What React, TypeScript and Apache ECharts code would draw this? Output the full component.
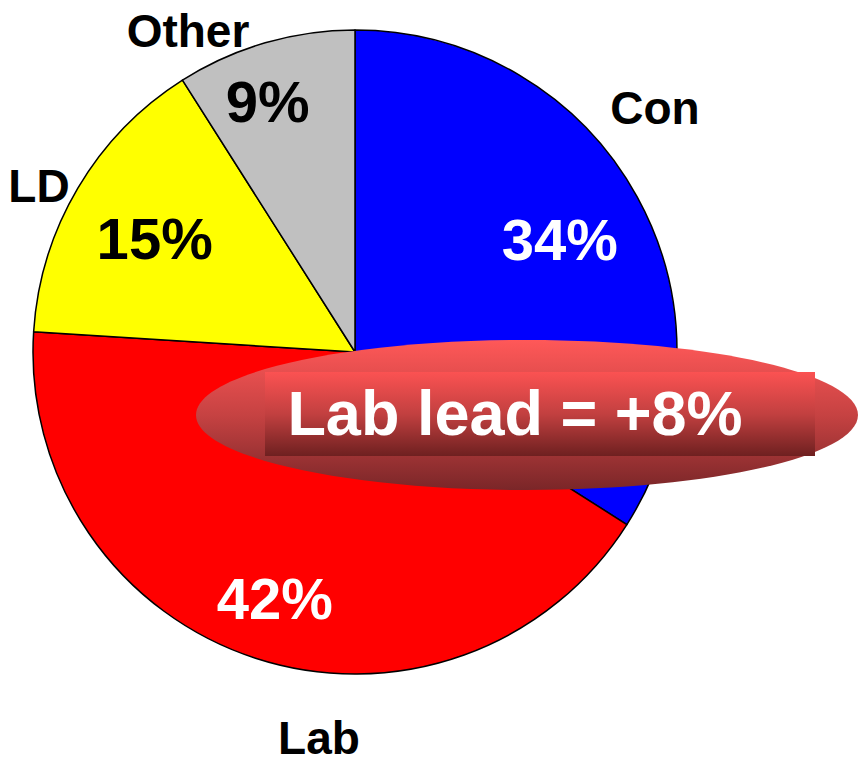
import React, { useEffect, useRef } from "react";
import * as echarts from "echarts";

const categories = ["Con", "Lab", "LD", "Other"];
const shares = [34, 42, 15, 9];
const sliceColors = ["#0000ff", "#ff0000", "#ffff00", "#c0c0c0"];
const pctColors = ["#ffffff", "#ffffff", "#000000", "#000000"];
const leadText = "Lab lead = +8%";

// label layout (positions only)
const pctRadiusFrac = [0.73, 0.81, 0.72, 0.83];
const pctAngleShift = [0, 0, -1, -3];
const namePos: [number, number][] = [
  [655, 108],
  [319, 738],
  [39, 186],
  [188, 31],
];

const CX = 355;
const CY = 352;
const R = 322;

export default function App() {
  const ref = useRef<HTMLDivElement>(null);
  useEffect(() => {
    if (!ref.current) return;
    const chart = echarts.init(ref.current, null, { renderer: "svg" });
    const total = shares.reduce((a, b) => a + b, 0);
    const mids: number[] = [];
    let acc = 0;
    shares.forEach((v) => {
      mids.push(((acc + v / 2) / total) * 360);
      acc += v;
    });
    const font = "'Liberation Sans', Arial, Helvetica, sans-serif";
    chart.setOption({
      animation: false,
      series: [
        {
          type: "pie",
          center: [CX, CY],
          radius: [0, R],
          startAngle: 90,
          clockwise: true,
          silent: true,
          z: 1,
          itemStyle: { borderColor: "#000000", borderWidth: 1.5 },
          label: {
            show: true,
            position: "inside",
            formatter: (p: any) => shares[p.dataIndex] + "%",
            fontFamily: font,
            fontWeight: "bold",
            fontSize: 58,
          },
          labelLine: { show: false },
          labelLayout: (p: any) => {
            const i = p.dataIndex;
            const a = ((mids[i] + pctAngleShift[i]) * Math.PI) / 180;
            const r = 320 * pctRadiusFrac[i];
            return {
              x: CX + r * Math.sin(a),
              y: CY - r * Math.cos(a),
              align: "center",
              verticalAlign: "middle",
            };
          },
          data: categories.map((c, i) => ({
            name: c,
            value: shares[i],
            itemStyle: { color: sliceColors[i] },
            label: { color: pctColors[i] },
          })),
        },
      ],
      graphic: {
        elements: [
          ...categories.map((c, i) => ({
            type: "text",
            z: 100,
            x: namePos[i][0],
            y: namePos[i][1],
            style: {
              text: c,
              fill: "#000000",
              font: `bold 46px ${font}`,
              align: "center",
              verticalAlign: "middle",
            },
          })),
          {
            type: "ellipse",
            z: 100,
            shape: { cx: 527, cy: 415, rx: 331, ry: 75 },
            style: {
              fill: new echarts.graphic.LinearGradient(0, 0, 0, 1, [
                { offset: 0, color: "#ff5858" },
                { offset: 0.5, color: "#c64242" },
                { offset: 1, color: "#7a2628" },
              ]),
            },
          },
          {
            type: "rect",
            z: 101,
            shape: { x: 265, y: 372, width: 550, height: 84 },
            style: {
              fill: new echarts.graphic.LinearGradient(0, 0, 0, 1, [
                { offset: 0, color: "#fb5252" },
                { offset: 0.5, color: "#c24040" },
                { offset: 1, color: "#6e2020" },
              ]),
            },
          },
          {
            type: "text",
            z: 102,
            x: 515,
            y: 413,
            style: {
              text: leadText,
              fill: "#ffffff",
              font: `bold 63px ${font}`,
              align: "center",
              verticalAlign: "middle",
            },
          },
        ],
      },
    });
    return () => chart.dispose();
  }, []);
  return (
    <div
      ref={ref}
      style={{ position: "absolute", left: 0, top: 0, width: 858, height: 760 }}
    />
  );
}
